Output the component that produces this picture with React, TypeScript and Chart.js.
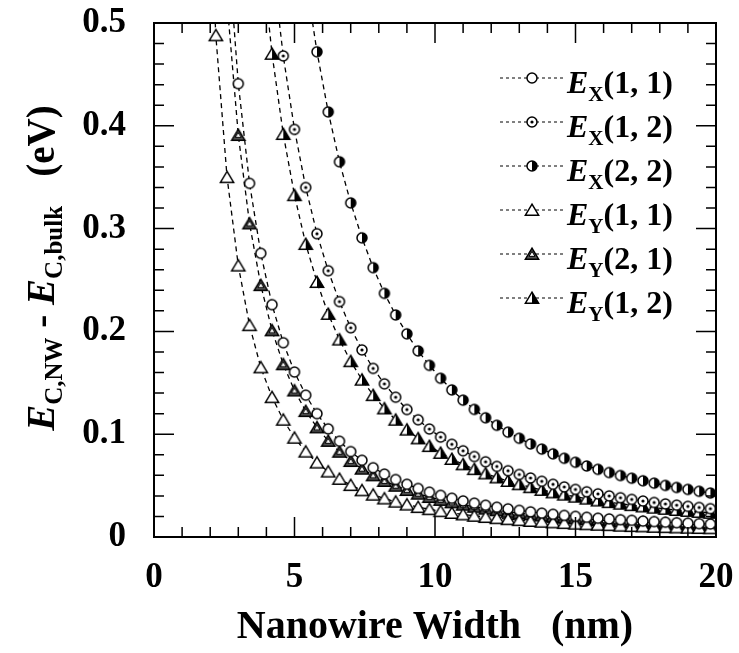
import React, { useEffect, useRef } from 'react';
import { Chart, registerables } from 'chart.js';

Chart.register(...registerables);

const SERIF = '"Liberation Serif", "Times New Roman", Times, serif';

// Nanowire width (nm)
const widthsNm = [1.8, 2.2, 2.6, 3.0, 3.4, 3.8, 4.2, 4.6, 5.0, 5.4, 5.8, 6.2, 6.6, 7.0, 7.4, 7.8, 8.2, 8.6, 9.0, 9.4, 9.8, 10.2, 10.6, 11.0, 11.4, 11.8, 12.2, 12.6, 13.0, 13.4, 13.8, 14.2, 14.6, 15.0, 15.4, 15.8, 16.2, 16.6, 17.0, 17.4, 17.8, 18.2, 18.6, 19.0, 19.4, 19.8];

// E_C,NW - E_C,bulk (eV)
const ex11 = [null, null, 0.587, 0.441, 0.344, 0.276, 0.226, 0.189, 0.1605, 0.138, 0.12, 0.1052, 0.0932, 0.0831, 0.0746, 0.0674, 0.0612, 0.0559, 0.0513, 0.0472, 0.0436, 0.0405, 0.0377, 0.0351, 0.0329, 0.0309, 0.029, 0.0274, 0.0259, 0.0245, 0.0232, 0.0221, 0.021, 0.0201, 0.0192, 0.0183, 0.0176, 0.0168, 0.0162, 0.0155, 0.015, 0.0144, 0.0139, 0.0134, 0.013, 0.0126];
const ex12 = [null, null, null, null, null, null, 0.561, 0.468, 0.3965, 0.340, 0.295, 0.259, 0.229, 0.2035, 0.182, 0.164, 0.149, 0.136, 0.124, 0.114, 0.105, 0.0972, 0.0902, 0.0839, 0.0783, 0.0732, 0.0687, 0.0645, 0.0608, 0.0574, 0.0542, 0.0513, 0.0487, 0.0463, 0.044, 0.042, 0.04, 0.0382, 0.0366, 0.035, 0.0336, 0.0322, 0.031, 0.0298, 0.0287, 0.0276];
const ex22 = [null, null, null, null, null, null, null, null, null, 0.544, 0.472, 0.4135, 0.365, 0.325, 0.291, 0.262, 0.237, 0.216, 0.1976, 0.181, 0.167, 0.1544, 0.1431, 0.1331, 0.1241, 0.116, 0.1087, 0.102, 0.096, 0.0905, 0.0855, 0.0809, 0.0766, 0.0727, 0.0691, 0.0658, 0.0627, 0.0598, 0.0572, 0.0547, 0.0524, 0.0502, 0.0482, 0.0463, 0.0445, 0.0428];
const ey11 = [0.728, 0.488, 0.350, 0.264, 0.206, 0.165, 0.136, 0.114, 0.0965, 0.083, 0.0724, 0.0636, 0.0565, 0.0505, 0.0454, 0.0411, 0.0374, 0.0343, 0.0315, 0.0291, 0.027, 0.0251, 0.0234, 0.0219, 0.0206, 0.0194, 0.0183, 0.0173, 0.0164, 0.0156, 0.0148, 0.0142, 0.0135, 0.0129, 0.0124, 0.0119, 0.0115, 0.011, 0.0106, 0.0103, 0.0099, 0.0096, 0.0093, 0.009, 0.0087, 0.0085];
const ey21 = [null, null, 0.520, 0.391, 0.305, 0.245, 0.201, 0.168, 0.1425, 0.1225, 0.1066, 0.0935, 0.0829, 0.0739, 0.0664, 0.06, 0.0545, 0.0498, 0.0457, 0.0421, 0.0389, 0.0361, 0.0337, 0.0314, 0.0294, 0.0276, 0.026, 0.0245, 0.0232, 0.022, 0.0209, 0.0199, 0.0189, 0.0181, 0.0173, 0.0165, 0.0158, 0.0152, 0.0146, 0.0141, 0.0135, 0.0131, 0.0126, 0.0122, 0.0118, 0.0114];
const ey12 = [null, null, null, null, null, 0.574, 0.470, 0.392, 0.3325, 0.285, 0.248, 0.217, 0.192, 0.171, 0.153, 0.138, 0.125, 0.114, 0.1044, 0.0959, 0.0884, 0.0818, 0.0759, 0.0707, 0.066, 0.0618, 0.0579, 0.0545, 0.0513, 0.0484, 0.0458, 0.0434, 0.0412, 0.0392, 0.0373, 0.0355, 0.0339, 0.0324, 0.031, 0.0297, 0.0285, 0.0274, 0.0263, 0.0254, 0.0244, 0.0235];

const seriesValues = [ex11, ex12, ex22, ey11, ey21, ey12];
const seriesSub = ['X', 'X', 'X', 'Y', 'Y', 'Y'];
const seriesIdx = ['(1, 1)', '(1, 2)', '(2, 2)', '(1, 1)', '(2, 1)', '(1, 2)'];
const seriesMarker = ['circle', 'dotCircle', 'halfCircle', 'triangle', 'doubleTriangle', 'halfTriangle'];

const xTicks = [0, 5, 10, 15, 20];
const yTicks = [0, 0.1, 0.2, 0.3, 0.4, 0.5];
const yTickLabels = ['0', '0.1', '0.2', '0.3', '0.4', '0.5'];
const xTitle = 'Nanowire Width   (nm)';

function makeMarker(kind: string): HTMLCanvasElement {
  const cv = document.createElement('canvas');
  cv.width = 18;
  cv.height = 18;
  const c = cv.getContext('2d') as CanvasRenderingContext2D;
  c.strokeStyle = '#000';
  c.fillStyle = '#fff';
  c.lineWidth = 1.5;
  const cx = 9, cy = 9, r = 5;
  const tri = (s: number) => {
    c.beginPath();
    c.moveTo(cx, cy - 5.8 * s);
    c.lineTo(cx + 6.6 * s, cy + 5.2 * s);
    c.lineTo(cx - 6.6 * s, cy + 5.2 * s);
    c.closePath();
  };
  if (kind.indexOf('ircle') >= 0) {
    c.beginPath();
    c.arc(cx, cy, r, 0, Math.PI * 2);
    c.fill();
    if (kind === 'halfCircle') {
      c.fillStyle = '#000';
      c.beginPath();
      c.arc(cx, cy, r, -Math.PI / 2, Math.PI / 2);
      c.closePath();
      c.fill();
    }
    c.beginPath();
    c.arc(cx, cy, r, 0, Math.PI * 2);
    c.stroke();
    if (kind === 'dotCircle') {
      c.fillStyle = '#000';
      c.beginPath();
      c.arc(cx, cy, 1.6, 0, Math.PI * 2);
      c.fill();
    }
  } else {
    tri(1);
    c.fillStyle = kind === 'doubleTriangle' ? '#555' : '#fff';
    c.fill();
    if (kind === 'halfTriangle') {
      c.fillStyle = '#000';
      c.beginPath();
      c.moveTo(cx, cy - 5.8);
      c.lineTo(cx + 6.6, cy + 5.2);
      c.lineTo(cx, cy + 5.2);
      c.closePath();
      c.fill();
    }
    tri(1);
    c.stroke();
    if (kind === 'doubleTriangle') {
      tri(0.45);
      c.fillStyle = '#fff';
      c.fill();
      c.lineWidth = 1;
      c.stroke();
    }
  }
  return cv;
}

export default function App() {
  const ref = useRef<HTMLCanvasElement | null>(null);

  useEffect(() => {
    const canvas = ref.current;
    if (!canvas) return;
    const markers = seriesMarker.map((k) => makeMarker(k));

    const datasets = seriesValues.map((vals, si) => ({
      label: 'E' + seriesSub[si] + seriesIdx[si],
      data: widthsNm
        .map((w, i) => ({ x: w, y: vals[i] }))
        .filter((p) => p.y !== null) as { x: number; y: number }[],
      borderColor: '#000',
      borderWidth: 1.3,
      borderDash: [5, 4],
      pointStyle: markers[si],
      pointRadius: 5,
      backgroundColor: '#fff',
      fill: false,
      tension: 0,
    }));

    const framePlugin = {
      id: 'frameTicks',
      afterDatasetsDraw(chart: any) {
        const { ctx, chartArea: a, scales } = chart;
        const x = scales.x, y = scales.y;
        ctx.save();
        ctx.strokeStyle = '#000';
        ctx.lineWidth = 1.5;
        ctx.beginPath();
        for (let v = 0; v <= 20; v++) {
          const px = x.getPixelForValue(v);
          const len = v % 5 === 0 ? 20 : 10;
          ctx.moveTo(px, a.bottom);
          ctx.lineTo(px, a.bottom - len);
          ctx.moveTo(px, a.top);
          ctx.lineTo(px, a.top + len);
        }
        for (let k = 0; k <= 25; k++) {
          const py = y.getPixelForValue(k * 0.02);
          const len = k % 5 === 0 ? 20 : 10;
          ctx.moveTo(a.left, py);
          ctx.lineTo(a.left + len, py);
          ctx.moveTo(a.right, py);
          ctx.lineTo(a.right - len, py);
        }
        ctx.stroke();
        ctx.lineWidth = 2;
        ctx.strokeRect(a.left, a.top, a.right - a.left, a.bottom - a.top);
        ctx.restore();
      },
    };

    const textPlugin = {
      id: 'customText',
      afterDraw(chart: any) {
        const ctx = chart.ctx as CanvasRenderingContext2D;
        ctx.save();
        ctx.fillStyle = '#000';
        // Legend
        const lx0 = 500, lx1 = 565, mx = 532, tx = 567;
        for (let i = 0; i < 6; i++) {
          const ry = 78 + 44 * i;
          ctx.strokeStyle = '#000';
          ctx.lineWidth = 1;
          ctx.setLineDash([3, 3]);
          ctx.beginPath();
          ctx.moveTo(lx0, ry);
          ctx.lineTo(lx1, ry);
          ctx.stroke();
          ctx.setLineDash([]);
          const m = markers[i];
          ctx.drawImage(m, mx - m.width / 2, ry - m.height / 2);
          let cx = tx;
          ctx.textBaseline = 'alphabetic';
          ctx.textAlign = 'left';
          ctx.font = 'italic bold 32px ' + SERIF;
          ctx.fillText('E', cx, ry + 15);
          cx += ctx.measureText('E').width;
          ctx.font = 'bold 21px ' + SERIF;
          ctx.fillText(seriesSub[i], cx, ry + 23);
          cx += ctx.measureText(seriesSub[i]).width;
          ctx.font = 'bold 32px ' + SERIF;
          ctx.fillText(seriesIdx[i], cx, ry + 15);
        }
        // Y axis title (rotated)
        const segs = [
          { t: 'E', f: 'italic bold 39px ' + SERIF, dy: 0 },
          { t: 'C,NW', f: 'bold 25px ' + SERIF, dy: 8 },
          { t: ' - ', f: 'bold 39px ' + SERIF, dy: 0 },
          { t: 'E', f: 'italic bold 39px ' + SERIF, dy: 0 },
          { t: 'C,bulk', f: 'bold 25px ' + SERIF, dy: 8 },
          { t: '   (eV)', f: 'bold 39px ' + SERIF, dy: 0 },
        ];
        let total = 0;
        const ws = segs.map((s) => {
          ctx.font = s.f;
          const w = ctx.measureText(s.t).width;
          total += w;
          return w;
        });
        ctx.translate(41, 268);
        ctx.rotate(-Math.PI / 2);
        let px = -total / 2;
        segs.forEach((s, i) => {
          ctx.font = s.f;
          ctx.fillText(s.t, px, 13 + s.dy);
          px += ws[i];
        });
        ctx.restore();
      },
    };

    const hiddenGrid = (len: number) => ({
      display: true,
      drawOnChartArea: false,
      drawTicks: true,
      tickLength: len,
      color: 'rgba(0,0,0,0)',
      tickColor: 'rgba(0,0,0,0)',
    });

    const chart = new Chart(canvas, {
      type: 'line',
      data: { datasets: datasets as any },
      options: {
        animation: false,
        responsive: false,
        devicePixelRatio: 1,
        layout: { padding: { top: 23, right: 23, left: 0, bottom: 0 } },
        plugins: { legend: { display: false }, tooltip: { enabled: false } },
        scales: {
          x: {
            type: 'linear',
            min: 0,
            max: 20,
            afterBuildTicks: (s: any) => {
              s.ticks = xTicks.map((v) => ({ value: v }));
            },
            afterFit: (s: any) => {
              s.height = 116;
            },
            ticks: {
              color: '#000',
              font: { family: SERIF, size: 35, weight: 'bold' },
              padding: 0,
              maxRotation: 0,
              autoSkip: false,
              callback: (v: any) => String(v),
            },
            grid: hiddenGrid(20),
            border: { display: false },
            title: {
              display: true,
              text: xTitle,
              color: '#000',
              font: { family: SERIF, size: 40, weight: 'bold' },
              padding: { top: 0, bottom: 1 },
            },
          },
          y: {
            type: 'linear',
            min: 0,
            max: 0.5,
            afterBuildTicks: (s: any) => {
              s.ticks = yTicks.map((v) => ({ value: v }));
            },
            afterFit: (s: any) => {
              s.width = 154;
            },
            ticks: {
              color: '#000',
              font: { family: SERIF, size: 35, weight: 'bold' },
              padding: 0,
              autoSkip: false,
              callback: (_v: any, i: number) => yTickLabels[i],
            },
            grid: hiddenGrid(28),
            border: { display: false },
          },
        },
      } as any,
      plugins: [framePlugin, textPlugin],
    });

    return () => chart.destroy();
  }, []);

  return (
    <div style={{ position: 'fixed', left: 0, top: 0, width: 739, height: 653, background: '#fff' }}>
      <canvas ref={ref} width={739} height={653} style={{ width: 739, height: 653 }} />
    </div>
  );
}
